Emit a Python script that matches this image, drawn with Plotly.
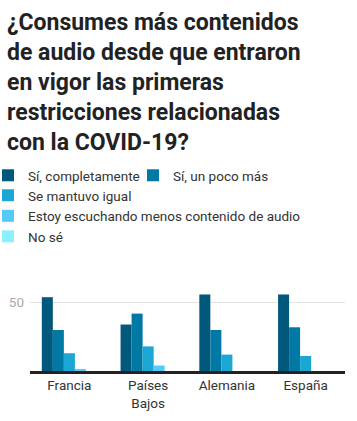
import plotly.graph_objects as go

categories = ["Francia", "Países<br>Bajos", "Alemania", "España"]
series_names = [
    "Sí, completamente",
    "Sí, un poco más",
    "Se mantuvo igual",
    "Estoy escuchando menos contenido de audio",
    "No sé",
]
si_completamente = [54, 34, 56, 56]
si_un_poco_mas = [30, 42, 30, 32]
se_mantuvo_igual = [13, 18, 12, 11]
escuchando_menos = [1, 4, 0, 0]
no_se = [0, 0, 0, 0]

series_values = [si_completamente, si_un_poco_mas, se_mantuvo_igual, escuchando_menos, no_se]
colors = ["#00587c", "#0079a5", "#1ba6d4", "#57c9f8", "#8cf1fe"]
legend_groups = ["legend", "legend", "legend2", "legend2", "legend2"]

W, H = 357, 421
fig = go.Figure()
for name, vals, col, lg in zip(series_names, series_values, colors, legend_groups):
    fig.add_trace(go.Bar(name=name, x=categories, y=vals, legend=lg,
                         marker=dict(color=col, line=dict(width=0))))

ml, mr, mt, mb = 30, 12, 289, 50
pw, ph = W - ml - mr, H - mt - mb
legend_font = dict(family="Roboto", size=13.5, color="#333")
lx = (-12 - ml) / pw

fig.update_layout(
    width=W, height=H,
    margin=dict(l=ml, r=mr, t=mt, b=mb, pad=0, autoexpand=False),
    paper_bgcolor="white", plot_bgcolor="white",
    font=dict(family="Roboto", size=13, color="#333"),
    barmode="group", bargap=0.3, bargroupgap=0,
    title=dict(
        text="¿Consumes más contenidos<br>de audio desde que entraron<br>en vigor las primeras<br>restricciones relacionadas<br>con la COVID-19?",
        font=dict(family="Roboto", size=23, color="#222", weight="bold"),
        x=7 / W, xanchor="left", xref="container",
        y=1 - 30 / H, yanchor="top", yref="container",
    ),
    legend=dict(
        orientation="h", entrywidth=100,
        x=lx, xanchor="left",
        y=(H - mb - 160) / ph, yanchor="top",
        font=legend_font, traceorder="normal",
        bgcolor="rgba(0,0,0,0)",
    ),
    legend2=dict(
        orientation="v",
        x=lx, xanchor="left",
        y=(H - mb - 180) / ph, yanchor="top",
        font=legend_font, traceorder="normal",
        bgcolor="rgba(0,0,0,0)",
    ),
    showlegend=True,
)
fig.update_xaxes(
    showline=True, linecolor="#222", linewidth=2.5,
    ticks="", tickfont=dict(size=13.5, color="#333"),
    showgrid=False, fixedrange=True,
)
fig.update_yaxes(
    range=[0, 60], tickvals=[50], ticktext=["50"],
    showgrid=True, gridcolor="#e3e3e3", gridwidth=1,
    zeroline=False, showline=False, ticks="", ticklabelstandoff=5,
    tickfont=dict(size=13.5, color="#aaa"),
    fixedrange=True,
)
fig.write_html("out.html", config={"displayModeBar": False},
               post_script="document.body.style.margin='0';")
